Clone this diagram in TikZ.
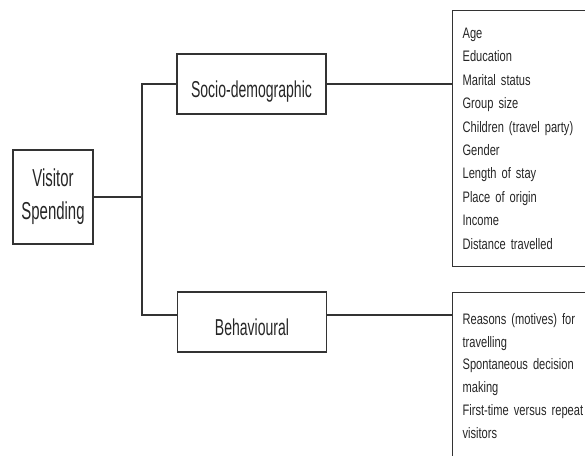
\documentclass[tikz,border=0pt]{standalone}
\usepackage{fontspec}
\usepackage{tikz}
\newfontfamily\labelfont[FakeStretch=0.61]{Liberation Sans}
\newfontfamily\listfont[FakeStretch=0.73]{Liberation Sans}

\begin{document}
\begin{tikzpicture}[x=1pt,y=-1pt,line width=1.2pt,
  catbox/.style={draw=black!80,text=black!85,minimum width=149pt,minimum height=60pt,
    text height=30pt,text depth=4pt,inner sep=0pt,font=\labelfont\fontsize{23}{28}\selectfont},
  listbox/.style={draw=black!80,text=black!85,anchor=north west,text width=130pt,
    inner xsep=10pt,align=left,font=\listfont\fontsize{15.2}{23.4}\selectfont}]
\useasboundingbox (0,0) rectangle (585,455);
\clip (0,0) rectangle (585,455);
\node[draw=black!80,text=black!85,minimum width=80pt,minimum height=94pt,align=center,
  font=\fontsize{24.5}{33}\labelfont] (visitor) at (53,197) {Visitor\\Spending};
\node[catbox] (socio) at (251.5,84) {Socio-demographic};
\node[catbox] (behav) at (252,322) {Behavioural};
\node[listbox,inner ysep=16pt,minimum height=256pt] (sociolist) at (452,10)
  {Age\\Education\\Marital status\\Group size\\Children (travel party)\\Gender\\Length of stay\\Place of origin\\Income\\Distance travelled};
\node[listbox,inner ysep=20.5pt,font=\listfont\fontsize{15.2}{22.9}\selectfont] (behavlist) at (452,292)
  {Reasons (motives) for\\travelling\\Spontaneous decision\\making\\First-time versus repeat\\visitors};
\coordinate (trunktop) at (142,84);
\coordinate (trunkbot) at (142,315);
\draw[black!80] (socio.west) -- (trunktop) -- (trunkbot) -- (behav.west |- trunkbot);
\draw[black!80] (visitor.east) -- (visitor.east -| trunktop);
\draw[black!80] (socio.east) -- (socio.east -| sociolist.west);
\draw[black!80] (behav.east |- trunkbot) -- (trunkbot -| behavlist.west);
\end{tikzpicture}
\end{document}
